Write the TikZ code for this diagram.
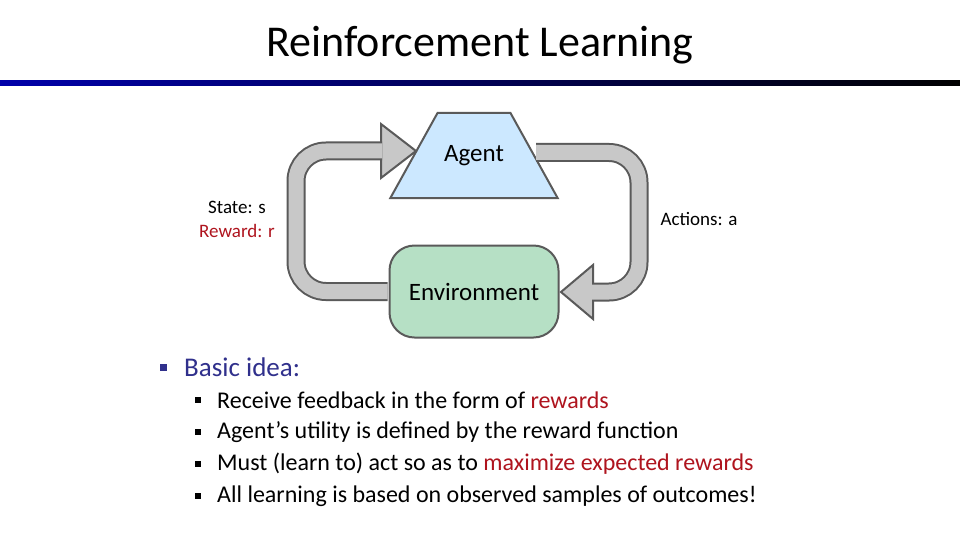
\documentclass[tikz,border=0pt]{standalone}
\usepackage{fontspec}
\setmainfont{Carlito}
\definecolor{mblue}{RGB}{0,0,170}
\definecolor{mtitle}{RGB}{48,48,140}
\definecolor{mred}{RGB}{175,20,30}
\definecolor{mgray}{RGB}{90,90,90}
\definecolor{mband}{RGB}{200,200,200}
\definecolor{magent}{RGB}{204,232,255}
\definecolor{menv}{RGB}{182,224,197}
\usetikzlibrary{shapes.geometric,arrows.meta,positioning,calc}
\tikzset{
  fs/.style={font=\fontsize{#1}{#1}\selectfont},
  box/.style={draw=mgray,line width=2pt,fill=#1,inner sep=0pt,fs=25},
  band/.style={draw=mgray,line width=2pt,double=mband,double distance=15pt,
    rounded corners=30pt},
  head/.style={draw=mgray,fill=mband,line width=2pt,line join=miter},
  lbl/.style={fs=19,inner sep=0pt},
  item/.style={anchor=west,inner sep=0pt,fs=#1},
  sq/.style={fill=#1,minimum size=6pt,inner sep=0pt},
}

\begin{document}
\begin{tikzpicture}[x=1pt,y=-1pt,node distance=45.5pt]
  \useasboundingbox[fill=white] (0,0) rectangle (960,540);

  % title and bar
  \node[fs=44] (title) at (480,45) {Reinforcement Learning};
  \shade[left color=mblue,right color=black] (0,81) rectangle (960,86);

  % agent / environment
  \node[box=magent,trapezium,trapezium left angle=61,trapezium right angle=61,
    text width=60pt,align=center,text height=17pt,text depth=6pt,
    inner xsep=6.5pt,inner ysep=31pt]
    (agent) at (474,155.5) {Agent};
  \node[box=menv,rectangle,rounded corners=25pt,minimum width=169pt,
    minimum height=92pt,below=of agent] (env) {Environment};

  % loop arrows
  \coordinate (ltip) at (416,151);
  \coordinate (rtip) at (561,292);
  \draw[head] (ltip) -- ++(-35,-27) -- ++(0,54) -- cycle;
  \draw[head] (rtip) -- ++(32,-27) -- ++(0,54) -- cycle;
  \draw[band,shorten <=1pt] (env.west) -| (296,151) -- ($(ltip)+(-34,0)$);
  \draw[band,shorten <=1pt] ($(agent.east)+(0,-3)$) -| (639,292)
    -- ($(rtip)+(31,0)$);

  \node[lbl,align=center] (state) at (237,219)
    {State: s\\[5pt]\textcolor{mred}{Reward: r}};
  \node[lbl] (act) at (699,219) {Actions: a};

  % bullets
  \node[sq=mtitle,minimum size=7pt] (b0) at (163.5,367) {};
  \node[item=27,text=mtitle] (t0) at (184,367) {Basic idea:};
  \foreach \txt [count=\i] in {%
      Receive feedback in the form of \textcolor{mred}{rewards},
      Agent’s utility is defined by the reward function,
      Must (learn to) act so as to \textcolor{mred}{maximize expected rewards},
      All learning is based on observed samples of outcomes!} {
    \node[sq=black] (b\i) at (198,368+32*\i) {};
    \node[item=24] (t\i) at (217,368+32*\i) {\txt};
  }
\end{tikzpicture}
\end{document}
